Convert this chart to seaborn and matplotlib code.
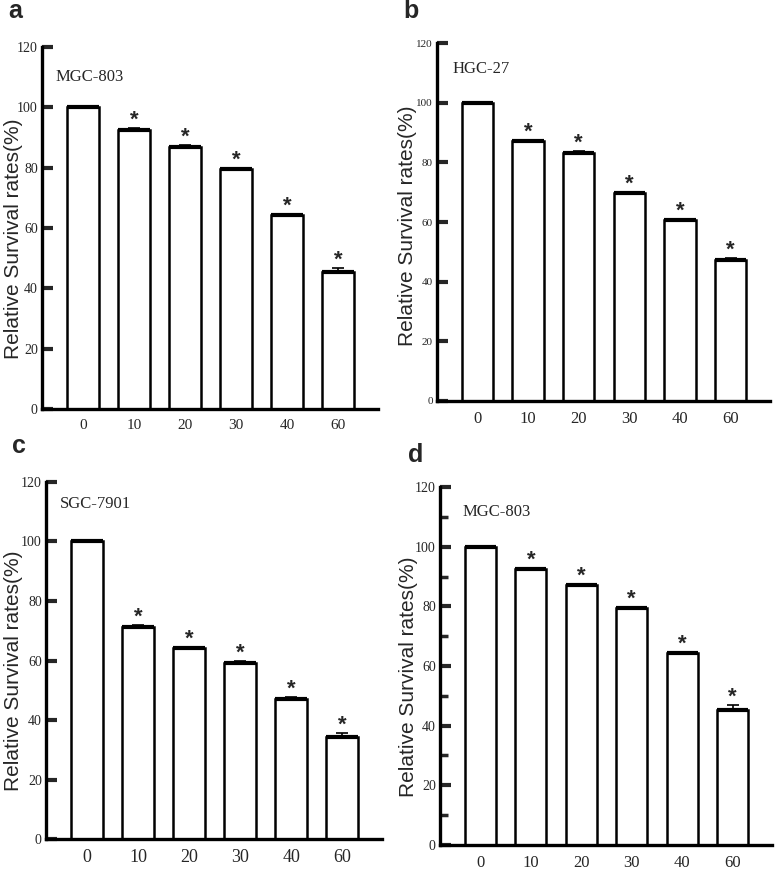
import matplotlib
matplotlib.use("Agg")
import matplotlib.pyplot as plt
from matplotlib.ticker import MultipleLocator
import seaborn as sns

# doses on the x axis (same for every panel)
doses = ["0", "10", "20", "30", "40", "60"]

# panel a / d : MGC-803
mgc_vals = [100, 92.6, 87.0, 79.4, 64.2, 45.4]
mgc_errs = [0, 0.4, 0.4, 0.4, 0.4, 1.4]
# panel b : HGC-27
hgc_vals = [100, 87.1, 83.1, 69.7, 60.6, 47.4]
hgc_errs = [0, 0.3, 0.6, 0.5, 0.3, 0.6]
# panel c : SGC-7901
sgc_vals = [100, 71.2, 64.2, 59.2, 47.1, 34.3]
sgc_errs = [0, 0.8, 0.3, 0.5, 0.5, 1.3]

sns.set_style("white")
plt.rcParams["font.family"] = ["Liberation Serif", "DejaVu Serif"]

fig = plt.figure(figsize=(7.78, 8.73), dpi=100)

panels = [
    # letter, cell line, values, errors, axes rect, ylabel pos, ytick size, xtick size, name pos, letter pos, minor
    ("a", "MGC-803", mgc_vals, mgc_errs, [0.054, 0.5315, 0.432, 0.4147], (-0.0565, 0.47), 10, 11, (0.04, 0.905), (0.010, 0.979), False),
    ("b", "HGC-27", hgc_vals, hgc_errs, [0.5617, 0.5407, 0.428, 0.410], (-0.060, 0.49), 8, 12, (0.048, 0.916), (0.518, 0.979), False),
    ("c", "SGC-7901", sgc_vals, sgc_errs, [0.0591, 0.0389, 0.432, 0.409], (-0.068, 0.47), 10, 13, (0.042, 0.927), (0.016, 0.481), False),
    ("d", "MGC-803", mgc_vals, mgc_errs, [0.5656, 0.0321, 0.4267, 0.410], (-0.066, 0.47), 10, 12, (0.069, 0.919), (0.525, 0.471), True),
]

for letter, cell, vals, errs, rect, ylab_pos, ysize, xsize, name_pos, let_pos, minor in panels:
    ax = fig.add_axes(rect)
    sns.barplot(x=doses, y=vals, order=doses, ax=ax, color="white",
                edgecolor="black", linewidth=1.8, width=0.62, errorbar=None)

    for p, v, e in zip(ax.patches, vals, errs):
        p.set_facecolor("white")
        cx = p.get_x() + p.get_width() / 2
        # thicker top edge of each bar
        ax.plot([p.get_x(), p.get_x() + p.get_width()], [v, v], color="black",
                lw=3, solid_capstyle="butt", zorder=4)
        if e > 0:
            ax.errorbar(cx, v, yerr=[[0], [e]], color="black", lw=1.2,
                        capsize=4, capthick=1.2, zorder=4)
        if v < 100:
            ax.annotate("*", (cx, v + e), xytext=(0, -2), textcoords="offset points",
                        ha="center", va="bottom", fontsize=16, fontweight="bold",
                        family="Liberation Sans")

    ax.set_xlim(-0.8, 5.78)
    ax.set_ylim(0, 120)
    ax.set_yticks(range(0, 121, 20))
    if minor:
        ax.yaxis.set_minor_locator(MultipleLocator(10))
        ax.tick_params(axis="y", which="minor", direction="in", length=6, width=2.5, left=True)

    sns.despine(ax=ax)
    for side in ["left", "bottom"]:
        ax.spines[side].set_linewidth(2.4)
        ax.spines[side].set_color("black")

    ax.tick_params(axis="y", which="major", direction="in", length=8, width=3,
                   pad=3, labelsize=ysize, left=True)
    ax.tick_params(axis="x", length=0, pad=7, labelsize=xsize)

    ax.set_xlabel("")
    ax.set_ylabel("Relative Survival rates(%)", fontsize=15, family="Liberation Sans")
    ax.yaxis.set_label_coords(*ylab_pos)

    ax.text(name_pos[0], name_pos[1], cell, transform=ax.transAxes,
            fontsize=12, va="baseline", ha="left")
    fig.text(let_pos[0], let_pos[1], letter, fontsize=18, fontweight="bold",
             family="Liberation Sans", va="baseline", ha="left")

fig.savefig("out.png", dpi=100)
